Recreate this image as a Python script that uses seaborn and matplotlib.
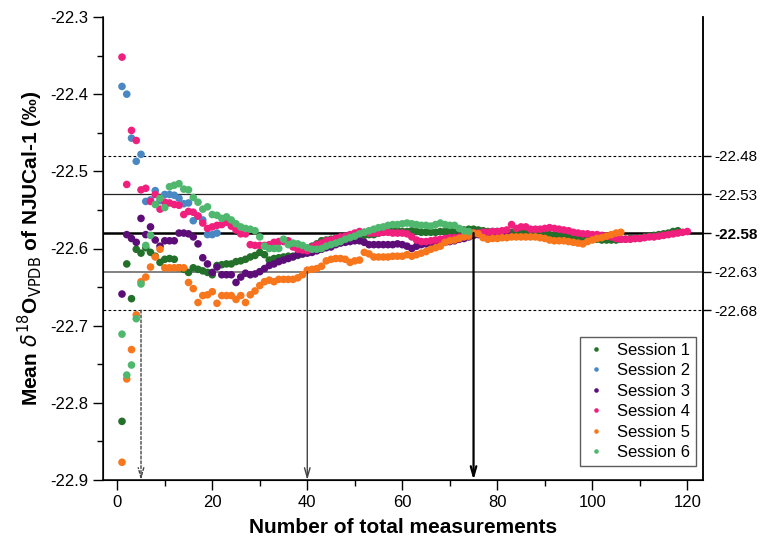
import numpy as np
import pandas as pd
import matplotlib
matplotlib.use("Agg")
import matplotlib.pyplot as plt
import seaborn as sns

session1 = [-22.824, -22.620, -22.665, -22.601, -22.606, -22.599, -22.605, -22.610, -22.618, -22.614,
            -22.613, -22.614, -22.625, -22.627, -22.631, -22.625, -22.627, -22.629, -22.631, -22.634,
            -22.622, -22.621, -22.620, -22.620, -22.617, -22.616, -22.614, -22.611, -22.609, -22.605,
            -22.608, -22.615, -22.613, -22.612, -22.611, -22.610, -22.610, -22.609, -22.607, -22.605,
            -22.597, -22.594, -22.590, -22.589, -22.588, -22.587, -22.587, -22.586, -22.585, -22.584,
            -22.584, -22.583, -22.582, -22.582, -22.580, -22.579, -22.578, -22.577, -22.577, -22.578,
            -22.578, -22.577, -22.578, -22.579, -22.579, -22.579, -22.579, -22.578, -22.578, -22.577,
            -22.577, -22.576, -22.576, -22.575, -22.575, -22.576, -22.577, -22.578, -22.578, -22.578,
            -22.578, -22.579, -22.579, -22.579, -22.579, -22.579, -22.579, -22.580, -22.580, -22.581,
            -22.582, -22.583, -22.583, -22.584, -22.585, -22.586, -22.586, -22.587, -22.587, -22.588,
            -22.588, -22.589, -22.589, -22.589, -22.589, -22.588, -22.588, -22.587, -22.587, -22.586,
            -22.585, -22.584, -22.583, -22.582, -22.581, -22.580, -22.578, -22.577]

session2 = [-22.390, -22.400, -22.457, -22.487, -22.478, -22.539, -22.537, -22.525, -22.538, -22.530,
            -22.530, -22.531, -22.535, -22.542, -22.541, -22.564, -22.558, -22.563, -22.582, -22.582,
            -22.580]

session3 = [-22.659, -22.582, -22.587, -22.592, -22.561, -22.582, -22.572, -22.589, -22.597, -22.590,
            -22.590, -22.590, -22.580, -22.580, -22.581, -22.585, -22.594, -22.612, -22.620, -22.631,
            -22.624, -22.634, -22.634, -22.634, -22.644, -22.637, -22.632, -22.634, -22.633, -22.630,
            -22.626, -22.622, -22.620, -22.617, -22.615, -22.613, -22.611, -22.608, -22.607, -22.606,
            -22.605, -22.603, -22.601, -22.599, -22.598, -22.595, -22.593, -22.592, -22.591, -22.590,
            -22.590, -22.592, -22.595, -22.595, -22.595, -22.595, -22.595, -22.595, -22.594, -22.595,
            -22.597, -22.600, -22.597, -22.595, -22.594, -22.594, -22.593, -22.593, -22.592, -22.591,
            -22.590, -22.588, -22.587, -22.585, -22.583, -22.582, -22.581, -22.580, -22.580, -22.580,
            -22.580, -22.580]

session4 = [-22.352, -22.517, -22.447, -22.460, -22.524, -22.522, -22.539, -22.530, -22.549, -22.540,
            -22.541, -22.543, -22.544, -22.556, -22.552, -22.553, -22.558, -22.567, -22.574, -22.572,
            -22.570, -22.569, -22.566, -22.571, -22.576, -22.581, -22.581, -22.595, -22.596, -22.596,
            -22.596, -22.595, -22.592, -22.591, -22.591, -22.590, -22.598, -22.601, -22.602, -22.603,
            -22.598, -22.595, -22.593, -22.590, -22.589, -22.587, -22.585, -22.584, -22.582, -22.580,
            -22.578, -22.579, -22.580, -22.580, -22.580, -22.579, -22.579, -22.580, -22.580, -22.580,
            -22.581, -22.585, -22.589, -22.591, -22.591, -22.590, -22.589, -22.588, -22.587, -22.586,
            -22.586, -22.585, -22.584, -22.582, -22.580, -22.580, -22.579, -22.579, -22.578, -22.578,
            -22.577, -22.576, -22.569, -22.574, -22.572, -22.572, -22.575, -22.575, -22.575, -22.574,
            -22.573, -22.574, -22.575, -22.576, -22.577, -22.579, -22.580, -22.581, -22.581, -22.582,
            -22.582, -22.583, -22.584, -22.585, -22.587, -22.588, -22.588, -22.588, -22.587, -22.587,
            -22.586, -22.585, -22.585, -22.584, -22.583, -22.582, -22.581, -22.580, -22.579, -22.578]

session5 = [-22.877, -22.769, -22.731, -22.686, -22.643, -22.637, -22.624, -22.611, -22.601, -22.625,
            -22.625, -22.625, -22.625, -22.625, -22.644, -22.652, -22.670, -22.661, -22.660, -22.656,
            -22.671, -22.661, -22.661, -22.661, -22.666, -22.661, -22.670, -22.660, -22.655, -22.648,
            -22.643, -22.641, -22.643, -22.640, -22.640, -22.640, -22.640, -22.638, -22.634, -22.628,
            -22.627, -22.626, -22.623, -22.616, -22.614, -22.613, -22.613, -22.614, -22.618, -22.616,
            -22.615, -22.605, -22.607, -22.611, -22.611, -22.611, -22.611, -22.610, -22.610, -22.610,
            -22.608, -22.610, -22.608, -22.606, -22.604, -22.601, -22.599, -22.597, -22.592, -22.590,
            -22.589, -22.587, -22.585, -22.584, -22.580, -22.581, -22.586, -22.588, -22.587, -22.587,
            -22.586, -22.586, -22.585, -22.585, -22.585, -22.585, -22.585, -22.585, -22.586, -22.587,
            -22.589, -22.590, -22.590, -22.590, -22.591, -22.592, -22.593, -22.594, -22.591, -22.589,
            -22.587, -22.586, -22.584, -22.582, -22.580, -22.579]

session6 = [-22.711, -22.764, -22.751, -22.691, -22.646, -22.596, -22.583, -22.543, -22.535, -22.547,
            -22.520, -22.518, -22.516, -22.523, -22.524, -22.534, -22.540, -22.549, -22.546, -22.556,
            -22.557, -22.561, -22.559, -22.563, -22.568, -22.572, -22.574, -22.575, -22.577, -22.585,
            -22.597, -22.600, -22.600, -22.600, -22.588, -22.595, -22.593, -22.594, -22.596, -22.599,
            -22.601, -22.601, -22.600, -22.597, -22.595, -22.593, -22.591, -22.588, -22.586, -22.584,
            -22.581, -22.579, -22.577, -22.575, -22.573, -22.572, -22.570, -22.569, -22.569, -22.568,
            -22.567, -22.568, -22.569, -22.570, -22.570, -22.571, -22.569, -22.567, -22.569, -22.570,
            -22.570, -22.574, -22.577, -22.578]

session_names = ["Session 1", "Session 2", "Session 3", "Session 4", "Session 5", "Session 6"]
session_colors = ["#23702a", "#4a88c4", "#5c0d78", "#f01f7e", "#f8761c", "#4fb86e"]

ref_values = [-22.48, -22.53, -22.58, -22.63, -22.68]
ref_labels = ["-22.48", "-22.53", "-22.58", "-22.63", "-22.68"]
arrow_x = [5, 40, 75]
arrow_from = [-22.68, -22.63, -22.58]

y_ticks = [-22.3, -22.4, -22.5, -22.6, -22.7, -22.8, -22.9]
x_ticks = [0, 20, 40, 60, 80, 100, 120]

frames = []
for name, vals in zip(session_names, [session1, session2, session3, session4, session5, session6]):
    frames.append(pd.DataFrame({"n": np.arange(1, len(vals) + 1), "mean": vals, "session": name}))
df = pd.concat(frames, ignore_index=True)

sns.set_style("ticks")
plt.rcParams["font.family"] = ["Liberation Sans", "DejaVu Sans"]
for key in ["text.color", "axes.labelcolor", "xtick.color", "ytick.color", "axes.edgecolor"]:
    plt.rcParams[key] = "black"

fig = plt.figure(figsize=(7.64, 5.42), dpi=100)
ax = fig.add_axes([103 / 764, 1 - 480 / 542, 600 / 764, 463 / 542])

# reference lines
line_styles = [
    dict(color="black", lw=0.8, ls=(0, (2.5, 2))),
    dict(color="#222222", lw=0.9, ls="-"),
    dict(color="black", lw=1.8, ls="-"),
    dict(color="#777777", lw=1.3, ls="-"),
    dict(color="black", lw=0.8, ls=(0, (2.5, 2))),
]
for v, st in zip(ref_values, line_styles):
    ax.axhline(v, zorder=1, **st)

sns.scatterplot(data=df, x="n", y="mean", hue="session", palette=dict(zip(session_names, session_colors)),
                s=30, linewidth=0, ax=ax, zorder=3, legend=True)

# arrows
arrow_styles = [
    dict(color="#444444", lw=1.0, ls=(0, (2, 1.5))),
    dict(color="#444444", lw=1.0, ls="-"),
    dict(color="black", lw=1.6, ls="-"),
]
for xa, y0, st in zip(arrow_x, arrow_from, arrow_styles):
    ax.annotate("", xy=(xa, -22.9), xytext=(xa, y0),
                arrowprops=dict(arrowstyle="->,head_length=0.7,head_width=0.2",
                                color=st["color"], lw=st["lw"], linestyle=st["ls"],
                                shrinkA=0, shrinkB=0), zorder=4)

ax.set_xlim(-3, 123.3)
ax.set_ylim(-22.9, -22.3)
ax.set_xticks(x_ticks)
ax.set_xticks(np.arange(10, 121, 20), minor=True)
ax.set_yticks(y_ticks)
ax.set_yticks(np.arange(-22.85, -22.3, 0.1), minor=True)
ax.set_yticklabels([f"{v:.1f}" for v in y_ticks])
ax.tick_params(axis="both", which="major", direction="out", length=7, width=1, labelsize=12, color="black")
ax.tick_params(axis="both", which="minor", direction="out", length=4, width=1, color="black")
for side in ["left", "bottom", "right"]:
    ax.spines[side].set_linewidth(1.1)
    ax.spines[side].set_color("black")
ax.spines["top"].set_visible(False)

ax2 = ax.twinx()
ax2.set_ylim(ax.get_ylim())
ax2.set_yticks(ref_values)
ax2.set_yticklabels(ref_labels)
ax2.tick_params(axis="y", direction="out", length=6, width=1, labelsize=11, pad=2, color="black")
for lab in ax2.get_yticklabels():
    if lab.get_text() == "-22.58":
        lab.set_fontweight("bold")
ax2.spines["top"].set_visible(False)
ax2.spines["right"].set_linewidth(1.1)

ax.set_xlabel("Number of total measurements", fontsize=15, fontweight="bold", labelpad=6)
ax.set_ylabel(r"Mean $\delta^{18}$O$_{\mathrm{VPDB}}$ of NJUCal-1 (‰)", fontsize=15, fontweight="bold", labelpad=4)

handles, labels = ax.get_legend_handles_labels()
leg = ax.legend(handles, labels, loc="lower right", bbox_to_anchor=(696 / 764, 1 - 466 / 542),
                bbox_transform=fig.transFigure, borderaxespad=0, frameon=True, fancybox=False,
                fontsize=12, markerscale=0.6, handletextpad=0.6, labelspacing=0.33, borderpad=0.35,
                handlelength=1.3, title=None)
leg.get_frame().set_edgecolor("#333333")
leg.get_frame().set_linewidth(1.0)

fig.savefig("out.png", dpi=100)
